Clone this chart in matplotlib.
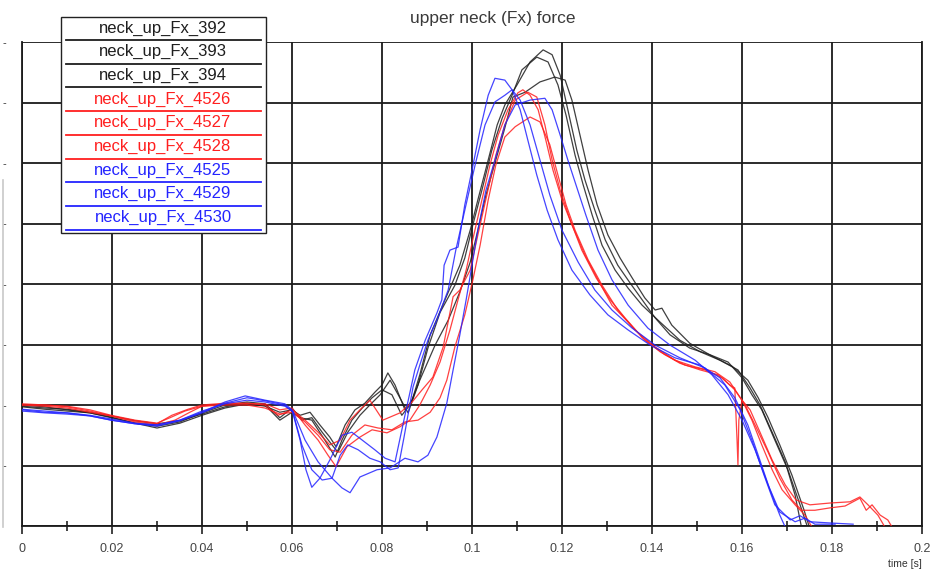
"""Upper neck Fx force traces, nine tests overlaid."""
import numpy as np
import matplotlib
matplotlib.use("Agg")
import matplotlib.pyplot as plt
from matplotlib.patches import Rectangle
from matplotlib.lines import Line2D

# (time [ms], force) pairs, one list per test
fx_392 = [(0, -0.02), (5.1, -0.05), (10, -0.07), (15.1, -0.12), (19.8, -0.18), (25.1, -0.26),
          (30, -0.31), (35.1, -0.26), (40, -0.15), (45.1, -0.03), (50, 0.03), (54, -0.02),
          (57.3, -0.12), (60, -0.08), (61.8, -0.17), (64.0, -0.12), (66.2, -0.33), (68.4, -0.53),
          (69.8, -0.69), (71.8, -0.33), (74.0, -0.08), (76.2, 0.03), (78.4, 0.21), (80.0, 0.33),
          (81.3, 0.53), (82.9, 0.33), (85.1, -0.08), (86.7, 0.08), (88.4, 0.50), (90.7, 1.16),
          (94.0, 1.74), (97.3, 2.31), (99.6, 2.89), (101.3, 3.39), (103.6, 4.05), (105.6, 4.63),
          (107.3, 4.96), (110.0, 5.29), (112.9, 5.67), (115.8, 5.87), (117.8, 5.79), (119.6, 5.45),
          (121.3, 4.88), (123.3, 4.21), (125.1, 3.72), (127.3, 3.22), (129.6, 2.73), (132.4, 2.31),
          (135.1, 2.02), (137.8, 1.74), (140.7, 1.44), (144.0, 1.16), (148.4, 0.94), (152.9, 0.83),
          (156.9, 0.71), (160.0, 0.45), (162.2, 0.17), (164.4, -0.08), (167.3, -0.58),
          (170.2, -1.07), (172.9, -1.65), (174.7, -2.05)]

fx_393 = [(0, 0.0), (5.1, -0.03), (10, -0.08), (15.1, -0.13), (19.8, -0.21), (25.1, -0.30),
          (30, -0.35), (35.1, -0.28), (40, -0.13), (45.1, 0.0), (50, 0.05), (54, 0.02),
          (57.3, -0.21), (60, -0.05), (62.2, -0.25), (64.4, -0.21), (66.7, -0.45), (68.9, -0.66),
          (70.2, -0.78), (72.4, -0.45), (75.1, -0.17), (77.3, 0.0), (79.6, 0.17), (81.8, 0.41),
          (83.6, 0.17), (85.8, -0.13), (88.0, 0.33), (90.2, 0.94), (92.9, 1.53), (96.2, 1.98),
          (98.4, 2.43), (100.2, 2.98), (102.2, 3.55), (104.4, 4.21), (106.7, 4.74), (108.9, 5.12),
          (111.1, 5.54), (114.4, 5.75), (116.9, 5.67), (119.1, 5.29), (120.9, 4.79), (122.9, 4.13),
          (124.7, 3.64), (126.7, 3.14), (128.9, 2.64), (131.8, 2.23), (134.7, 1.93), (137.8, 1.65),
          (141.8, 1.37), (146.2, 1.07), (150.7, 0.88), (155.1, 0.74), (159.1, 0.58), (161.8, 0.28),
          (164.0, 0.0), (166.7, -0.45), (169.6, -0.94), (171.8, -1.49), (173.3, -2.05)]

fx_394 = [(0, -0.03), (5.1, -0.07), (10, -0.10), (15.1, -0.13), (19.8, -0.20), (25.1, -0.30),
          (30, -0.38), (35.1, -0.30), (40, -0.17), (45.1, -0.05), (50, 0.02), (54, 0.0),
          (57.3, -0.25), (60, -0.12), (61.8, -0.21), (64.4, -0.25), (67.3, -0.58), (69.6, -0.86),
          (71.1, -0.58), (73.3, -0.25), (75.6, -0.05), (77.8, 0.12), (80.0, 0.25), (82.2, 0.17),
          (84.4, -0.17), (86.2, 0.0), (88.4, 0.41), (91.8, 0.99), (94.7, 1.40), (97.3, 1.87),
          (99.6, 2.36), (101.3, 2.89), (103.1, 3.47), (105.1, 4.00), (107.3, 4.58), (109.1, 5.09),
          (111.8, 5.17), (115.1, 5.34), (118.4, 5.42), (120.7, 5.37), (122.2, 5.04), (124.0, 4.46),
          (125.8, 3.88), (127.8, 3.31), (130.2, 2.81), (132.9, 2.43), (135.6, 2.10), (138.4, 1.77),
          (140.7, 1.57), (142.2, 1.60), (144.4, 1.32), (148.4, 1.02), (153.3, 0.81), (157.8, 0.64),
          (161.3, 0.41), (163.6, 0.12), (165.8, -0.21), (168.4, -0.66), (171.1, -1.16),
          (173.8, -1.74), (175.1, -2.05)]

fx_4526 = [(0, 0.02), (5.1, 0.0), (10, -0.02), (15.1, -0.08), (19.8, -0.17), (25.1, -0.25),
           (30, -0.30), (32.9, -0.21), (36.2, -0.10), (40, -0.02), (45.1, 0.02), (50, 0.02),
           (54, 0.02), (57.3, -0.08), (60, -0.05), (62.9, -0.33), (65.8, -0.58), (68.0, -0.83),
           (69.8, -1.02), (72.2, -0.69), (75.1, -0.53), (77.8, -0.41), (81.1, -0.46), (84.0, -0.36),
           (86.2, -0.25), (88.4, 0.0), (90.7, 0.33), (92.9, 0.71), (95.1, 1.24), (96.9, 1.74),
           (98.7, 2.23), (100.4, 2.81), (102.2, 3.39), (104.0, 3.97), (105.8, 4.46), (108.0, 4.88),
           (110.2, 5.16), (111.3, 5.21), (112.9, 5.12), (114.7, 4.88), (116.4, 4.38), (118.0, 3.88),
           (120.0, 3.39), (122.2, 2.98), (125.1, 2.48), (128.0, 2.07), (131.1, 1.65), (134.7, 1.37),
           (138.4, 1.07), (142.9, 0.83), (147.3, 0.66), (151.8, 0.58), (155.6, 0.45), (158.4, 0.25),
           (160.7, 0.0), (162.9, -0.33), (165.8, -0.78), (168.4, -1.21), (171.1, -1.57),
           (173.3, -1.74), (176.2, -1.74), (179.6, -1.70), (182.9, -1.67), (186.2, -1.54),
           (187.6, -1.74), (188.9, -1.65), (190.7, -1.82), (192.4, -1.90), (193.6, -2.05)]

fx_4527 = [(0, 0.0), (5.1, 0.0), (10, -0.03), (15.1, -0.10), (19.8, -0.18), (25.1, -0.26),
           (30, -0.31), (33.3, -0.17), (36.9, -0.07), (40, 0.0), (45.1, 0.03), (50, 0.03),
           (54, 0.0), (56.9, -0.17), (60, -0.08), (62.9, -0.25), (65.8, -0.45), (68.4, -0.66),
           (70.7, -0.58), (72.9, -0.25), (75.1, -0.08), (77.3, 0.08), (80.2, -0.25), (84.0, -0.13),
           (86.7, 0.05), (88.9, 0.25), (91.3, 0.46), (93.6, 0.96), (95.8, 1.79), (97.3, 1.90),
           (99.6, 2.23), (101.3, 2.81), (103.3, 3.47), (105.3, 4.13), (107.3, 4.63), (109.6, 5.04),
           (112.4, 5.17), (114.4, 5.09), (116.2, 4.63), (117.8, 4.05), (119.6, 3.55), (121.8, 3.06),
           (124.4, 2.56), (127.6, 2.10), (130.7, 1.74), (134.0, 1.44), (137.8, 1.12), (141.8, 0.88),
           (146.2, 0.69), (150.7, 0.58), (154.7, 0.50), (157.3, 0.33), (158.4, 0.28), (158.9, -0.58),
           (159.1, -0.99), (159.3, -0.25), (160.0, 0.08), (161.8, -0.08), (164.0, -0.45),
           (166.7, -0.91), (169.6, -1.32), (172.0, -1.57), (175.1, -1.65), (179.6, -1.62),
           (184.0, -1.60), (186.2, -1.52), (188.0, -1.65), (190.2, -1.82), (192.0, -2.05)]

fx_4528 = [(0, 0.0), (5.1, -0.02), (10, -0.05), (15.1, -0.12), (19.8, -0.18), (25.1, -0.28),
           (30, -0.33), (34.0, -0.25), (37.3, -0.12), (40, -0.02), (45.1, 0.0), (50, 0.0),
           (54, -0.05), (57.3, -0.15), (60, -0.12), (62.9, -0.28), (65.8, -0.50), (68.4, -0.74),
           (70.7, -0.78), (73.3, -0.50), (76.2, -0.33), (79.1, -0.38), (82.2, -0.41), (85.1, -0.28),
           (88.0, -0.25), (90.7, -0.12), (92.9, 0.12), (94.4, 0.41), (96.2, 0.96), (98.4, 1.49),
           (100.2, 2.07), (101.8, 2.64), (103.6, 3.39), (105.3, 3.97), (107.3, 4.43), (109.6, 4.60),
           (112.9, 4.76), (115.1, 4.68), (117.3, 4.30), (119.1, 3.80), (120.9, 3.31), (122.9, 2.89),
           (125.8, 2.40), (128.9, 1.98), (132.4, 1.57), (136.2, 1.24), (140.7, 0.96), (145.1, 0.74),
           (149.6, 0.63), (154.0, 0.55), (157.3, 0.38), (160.0, 0.08), (162.2, -0.25),
           (164.4, -0.66), (166.7, -1.07), (168.9, -1.40), (171.8, -1.65), (174.0, -1.82),
           (175.8, -2.05)]

fx_4525 = [(0, -0.08), (5.1, -0.12), (10, -0.13), (15.1, -0.17), (19.8, -0.23), (25.1, -0.30),
           (30, -0.33), (35.1, -0.25), (40, -0.12), (45.1, 0.05), (49.6, 0.15), (54, 0.08),
           (58.4, 0.02), (60, -0.08), (61.8, -0.58), (63.1, -1.07), (64.4, -1.36), (66.2, -1.21),
           (68.4, -0.91), (71.1, -0.50), (73.3, -0.45), (75.6, -0.58), (78.4, -0.74), (80.7, -0.88),
           (82.9, -0.94), (85.1, -0.17), (87.3, 0.58), (89.6, 1.07), (92.2, 1.52), (93.3, 1.74),
           (93.8, 2.31), (95.1, 2.56), (96.9, 2.61), (98.4, 3.31), (100.0, 3.88), (101.8, 4.55),
           (103.6, 5.12), (105.1, 5.40), (107.3, 5.37), (108.9, 5.21), (110.7, 4.88), (112.4, 4.38),
           (114.4, 3.80), (116.7, 3.22), (119.1, 2.73), (122.2, 2.23), (126.2, 1.82), (130.2, 1.49),
           (134.7, 1.24), (139.6, 0.99), (145.1, 0.78), (150.7, 0.66), (155.1, 0.45), (158.4, 0.12),
           (161.3, -0.33), (163.6, -0.83), (166.2, -1.40), (168.4, -1.82), (169.8, -2.05)]

fx_4529 = [(0, -0.10), (5.1, -0.13), (10, -0.15), (15.1, -0.18), (19.8, -0.25), (25.1, -0.31),
           (30, -0.35), (35.1, -0.26), (40, -0.13), (45.1, 0.03), (50, 0.12), (54, 0.07),
           (58.4, 0.0), (60.2, -0.12), (62.2, -0.66), (64.4, -1.07), (66.7, -1.24), (68.9, -1.21),
           (70.7, -0.83), (72.4, -0.66), (74.7, -0.74), (77.3, -0.88), (79.6, -0.94), (81.8, -1.07),
           (83.6, -1.04), (84.9, -0.53), (86.9, 0.30), (88.4, 0.66), (90.2, 1.07), (92.4, 1.44),
           (94.7, 1.90), (96.4, 2.56), (98.4, 3.22), (100.7, 3.97), (102.9, 4.63), (105.1, 5.01),
           (107.3, 5.12), (108.9, 5.21), (110.7, 5.04), (112.9, 4.63), (115.1, 4.05), (117.3, 3.47),
           (120.0, 2.89), (123.6, 2.36), (127.3, 1.90), (131.1, 1.57), (135.6, 1.27), (140.7, 0.99),
           (146.2, 0.78), (151.8, 0.61), (156.2, 0.33), (159.6, -0.08), (162.2, -0.58),
           (164.9, -1.16), (167.3, -1.65), (170.7, -1.90), (172.9, -1.83), (175.1, -1.93),
           (179.6, -1.95), (184.7, -1.97)]

fx_4530 = [(0, -0.07), (5.1, -0.10), (10, -0.13), (15.1, -0.18), (19.8, -0.25), (25.1, -0.31),
           (30, -0.33), (35.1, -0.25), (40, -0.10), (45.1, 0.02), (50, 0.08), (54, 0.05),
           (58.4, -0.02), (60.2, -0.10), (62.9, -0.58), (65.8, -0.94), (68.9, -1.21), (71.1, -1.37),
           (72.9, -1.45), (75.1, -1.19), (78.9, -1.07), (81.8, -1.04), (85.1, -0.88), (88.0, -0.94),
           (90.2, -0.83), (92.2, -0.53), (94.4, 0.03), (95.8, 0.58), (97.3, 1.16), (98.7, 1.74),
           (100.0, 2.31), (101.3, 2.89), (103.1, 3.55), (105.1, 4.05), (107.3, 4.63), (109.6, 4.96),
           (112.9, 5.04), (116.2, 5.07), (117.8, 4.88), (119.6, 4.46), (121.3, 4.05), (123.1, 3.64),
           (125.3, 3.14), (128.0, 2.56), (131.1, 2.07), (134.7, 1.65), (139.1, 1.27), (144.0, 0.99),
           (149.6, 0.74), (153.3, 0.50), (156.9, 0.17), (160.0, -0.25), (162.9, -0.74),
           (165.8, -1.32), (168.4, -1.77), (171.8, -1.93), (174.0, -1.87), (176.2, -1.97),
           (180.7, -1.97)]

BLACK = "#1e1e1e"
RED = "#ff1f1f"
BLUE = "#2424ff"

labels = ["neck_up_Fx_392", "neck_up_Fx_393", "neck_up_Fx_394",
          "neck_up_Fx_4526", "neck_up_Fx_4527", "neck_up_Fx_4528",
          "neck_up_Fx_4525", "neck_up_Fx_4529", "neck_up_Fx_4530"]
traces = [fx_392, fx_393, fx_394, fx_4526, fx_4527, fx_4528, fx_4525, fx_4529, fx_4530]
colors = [BLACK] * 3 + [RED] * 3 + [BLUE] * 3

x_ticks = [0, 0.02, 0.04, 0.06, 0.08, 0.1, 0.12, 0.14, 0.16, 0.18, 0.2]
x_tick_labels = ["0", "0.02", "0.04", "0.06", "0.08", "0.1", "0.12", "0.14", "0.16", "0.18", "0.2"]
y_ticks = [-2, -1, 0, 1, 2, 3, 4, 5, 6]

W, H = 930, 570
plt.rcParams["font.family"] = ["Liberation Sans", "DejaVu Sans"]

fig = plt.figure(figsize=(W / 100, H / 100), dpi=100)
ax = fig.add_axes([22 / W, 1 - 526 / H, 900 / W, 484 / H])

for data, col in zip(traces, colors):
    arr = np.array(data)
    ax.plot(arr[:, 0] / 1000, arr[:, 1], color=col, lw=0.9, alpha=0.85, zorder=3)

ax.set_xlim(0, 0.2)
ax.set_ylim(-2, 6)
ax.set_xticks(x_ticks)
ax.set_xticklabels(x_tick_labels, fontsize=9, color="#444444")
ax.set_xticks(np.arange(0.01, 0.2, 0.02), minor=True)
ax.set_yticks(y_ticks)
ax.set_yticklabels(["-" if v > -2 else "" for v in y_ticks], fontsize=8, color="#333333")
ax.tick_params(axis="x", which="major", direction="out", length=6, width=1.2, color="#222222", pad=6)
ax.tick_params(axis="x", which="minor", direction="inout", length=7, width=1.2, color="#222222")
ax.tick_params(axis="y", length=0, pad=11)
ax.grid(True, which="major", color="#1a1a1a", lw=1.3)
ax.set_axisbelow(True)
for side, sp in ax.spines.items():
    sp.set_color("#1a1a1a")
    sp.set_linewidth(1.3)
ax.spines["top"].set_visible(False)

fig.text(493 / W, 1 - 18 / H, "upper neck (Fx) force", ha="center", va="center",
         fontsize=12.5, color="#3a3a3a")
fig.text(905 / W, 1 - 564 / H, "time [s]", ha="center", va="center", fontsize=7.5, color="#333333")

# faint window border at the left edge of the screenshot
fig.add_artist(Line2D([3 / W, 3 / W], [1 - 527 / H, 1 - 180 / H], color="#c8c8c8", lw=1.2))

# legend: name above a line of the trace colour
fig.add_artist(Rectangle((61 / W, 1 - 233 / H), 205 / W, 216 / H, transform=fig.transFigure,
                         facecolor="white", edgecolor="#222222", lw=1.0, zorder=5))
for i, (lab, col) in enumerate(zip(labels, colors)):
    y_line = 40 + 23.7 * i
    fig.text(163 / W, 1 - (y_line - 12) / H, lab, ha="center", va="center",
             fontsize=12, color=col, zorder=6)
    fig.add_artist(Line2D([66 / W, 261 / W], [1 - y_line / H] * 2, color=col, lw=1.3, zorder=6))

fig.savefig("out.png", dpi=100)
